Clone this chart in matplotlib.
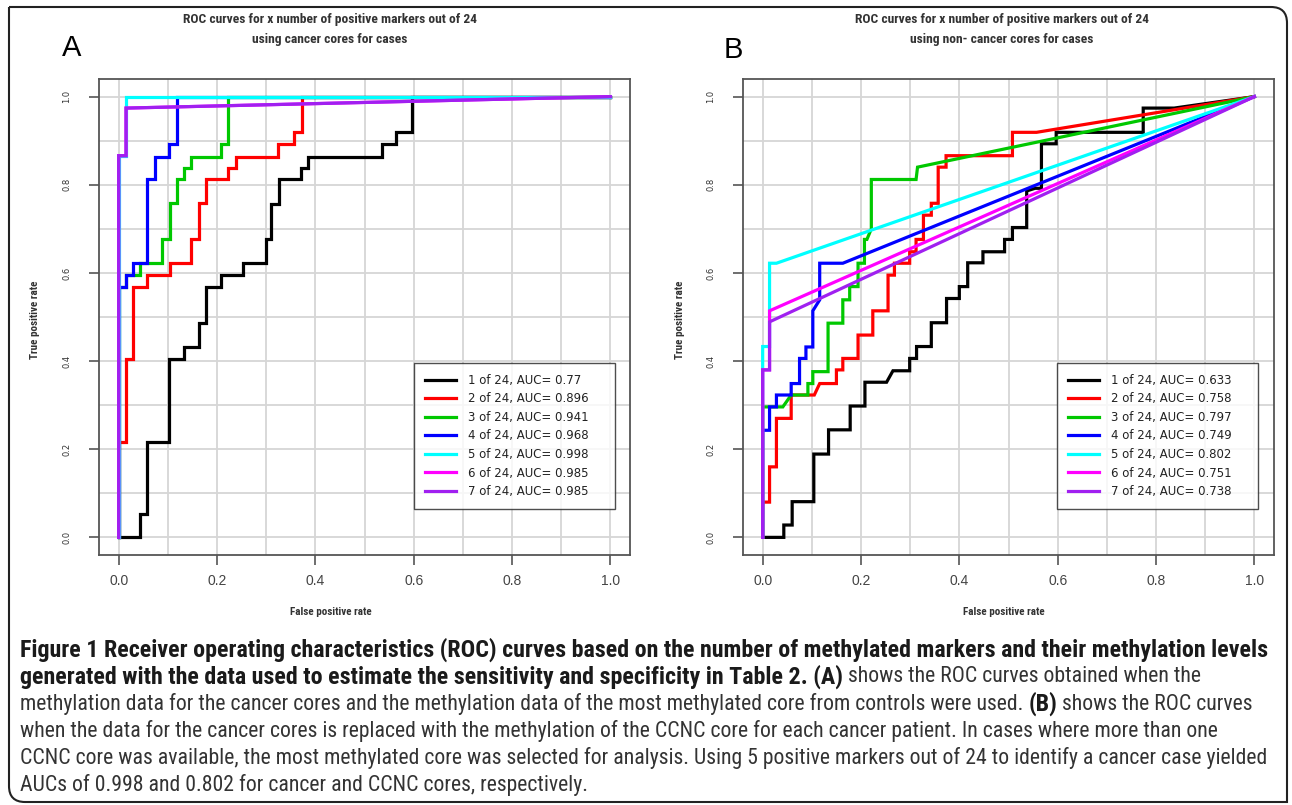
import numpy as np
import matplotlib.pyplot as plt
from matplotlib import font_manager as fm
from matplotlib.path import Path
from matplotlib.patches import PathPatch
from matplotlib.transforms import IdentityTransform

W, H = 1292, 805
ARIAL = ['Liberation Sans', 'DejaVu Sans']
_names = {f.name for f in fm.fontManager.ttflist}
NARROW = [n for n in ['Liberation Sans Narrow', 'Roboto Condensed', 'Open Sans Condensed']
          if n in _names] + ['DejaVu Sans']

colors = ['black', '#FF0000', '#00C800', '#0000FF', '#00FFFF', '#FF00FF', '#A020F0']
ticks = [0.0, 0.2, 0.4, 0.6, 0.8, 1.0]
tick_labels = ['0.0', '0.2', '0.4', '0.6', '0.8', '1.0']

# ---- panel A: cancer cores ----
a_labels = ['1 of 24, AUC= 0.77', '2 of 24, AUC= 0.896', '3 of 24, AUC= 0.941',
            '4 of 24, AUC= 0.968', '5 of 24, AUC= 0.998', '6 of 24, AUC= 0.985',
            '7 of 24, AUC= 0.985']

a1_fpr = [0, 0.044, 0.044, 0.058, 0.058, 0.103, 0.103, 0.133, 0.133, 0.163, 0.163, 0.178, 0.178,
          0.208, 0.208, 0.252, 0.252, 0.299, 0.299, 0.310, 0.310, 0.327, 0.327, 0.371, 0.371,
          0.386, 0.386, 0.536, 0.536, 0.565, 0.565, 0.597, 0.597, 1]
a1_tpr = [0, 0, 0.054, 0.054, 0.217, 0.217, 0.404, 0.404, 0.433, 0.433, 0.487, 0.487, 0.567,
          0.567, 0.595, 0.595, 0.622, 0.622, 0.676, 0.676, 0.756, 0.756, 0.812, 0.812, 0.837,
          0.837, 0.864, 0.864, 0.893, 0.893, 0.919, 0.919, 1, 1]
a2_fpr = [0, 0, 0.014, 0.014, 0.029, 0.029, 0.058, 0.058, 0.104, 0.104, 0.148, 0.148, 0.163,
          0.163, 0.178, 0.178, 0.222, 0.222, 0.238, 0.238, 0.325, 0.325, 0.357, 0.357, 0.372,
          0.372, 1]
a2_tpr = [0, 0.217, 0.217, 0.404, 0.404, 0.569, 0.569, 0.595, 0.595, 0.623, 0.623, 0.676, 0.676,
          0.758, 0.758, 0.812, 0.812, 0.837, 0.837, 0.864, 0.864, 0.893, 0.893, 0.919, 0.919,
          1, 1]
a3_fpr = [0, 0, 0.014, 0.014, 0.044, 0.044, 0.088, 0.088, 0.104, 0.104, 0.119, 0.119, 0.133,
          0.133, 0.148, 0.148, 0.208, 0.208, 0.222, 0.222, 1]
a3_tpr = [0, 0.569, 0.569, 0.595, 0.595, 0.623, 0.623, 0.676, 0.676, 0.758, 0.758, 0.812, 0.812,
          0.837, 0.837, 0.864, 0.864, 0.893, 0.893, 1, 1]
a4_fpr = [0, 0, 0.014, 0.014, 0.029, 0.029, 0.058, 0.058, 0.073, 0.073, 0.103, 0.103, 0.119,
          0.119, 1]
a4_tpr = [0, 0.569, 0.569, 0.595, 0.595, 0.623, 0.623, 0.812, 0.812, 0.864, 0.864, 0.893, 0.893,
          1, 1]
a5_fpr = [0, 0, 0.015, 0.015, 1]
a5_tpr = [0, 0.866, 0.866, 1, 1]
a6_fpr = [0, 0, 0.015, 0.015, 1]
a6_tpr = [0, 0.866, 0.866, 0.974, 1]
a7_fpr = [0, 0, 0.015, 0.015, 1]
a7_tpr = [0, 0.866, 0.866, 0.974, 1]

# ---- panel B: non-cancer cores ----
b_labels = ['1 of 24, AUC= 0.633', '2 of 24, AUC= 0.758', '3 of 24, AUC= 0.797',
            '4 of 24, AUC= 0.749', '5 of 24, AUC= 0.802', '6 of 24, AUC= 0.751',
            '7 of 24, AUC= 0.738']

b1_fpr = [0, 0.043, 0.043, 0.060, 0.060, 0.104, 0.104, 0.134, 0.134, 0.178, 0.178, 0.208, 0.208,
          0.252, 0.265, 0.299, 0.299, 0.313, 0.313, 0.343, 0.343, 0.374, 0.374, 0.400, 0.400,
          0.417, 0.417, 0.448, 0.448, 0.492, 0.492, 0.508, 0.508, 0.537, 0.537, 0.554, 0.567,
          0.567, 0.597, 0.597, 0.774, 0.774, 0.837, 1]
b1_tpr = [0, 0, 0.028, 0.028, 0.081, 0.081, 0.189, 0.189, 0.244, 0.244, 0.298, 0.298, 0.352,
          0.352, 0.378, 0.378, 0.406, 0.406, 0.433, 0.433, 0.487, 0.487, 0.542, 0.542, 0.569,
          0.569, 0.623, 0.623, 0.648, 0.648, 0.676, 0.676, 0.703, 0.703, 0.786, 0.792, 0.792,
          0.893, 0.893, 0.919, 0.919, 0.974, 0.974, 1]
b2_fpr = [0, 0, 0.014, 0.014, 0.028, 0.028, 0.058, 0.058, 0.105, 0.116, 0.150, 0.150, 0.163,
          0.163, 0.194, 0.194, 0.224, 0.224, 0.255, 0.255, 0.268, 0.268, 0.299, 0.299, 0.312,
          0.312, 0.327, 0.327, 0.343, 0.343, 0.357, 0.357, 0.373, 0.373, 0.508, 0.508, 0.557, 1]
b2_tpr = [0, 0.080, 0.080, 0.160, 0.160, 0.270, 0.270, 0.323, 0.323, 0.349, 0.349, 0.380, 0.380,
          0.406, 0.406, 0.459, 0.459, 0.514, 0.514, 0.595, 0.595, 0.622, 0.622, 0.648, 0.648,
          0.676, 0.676, 0.731, 0.731, 0.758, 0.758, 0.840, 0.840, 0.866, 0.866, 0.919, 0.919, 1]
b3_fpr = [0, 0, 0.041, 0.058, 0.092, 0.092, 0.102, 0.102, 0.133, 0.133, 0.163, 0.163, 0.177,
          0.177, 0.194, 0.194, 0.207, 0.207, 0.212, 0.221, 0.221, 0.312, 0.315, 1]
b3_tpr = [0, 0.296, 0.296, 0.323, 0.323, 0.349, 0.349, 0.376, 0.376, 0.486, 0.486, 0.539, 0.539,
          0.569, 0.569, 0.622, 0.622, 0.676, 0.676, 0.700, 0.812, 0.812, 0.840, 1]
b4_fpr = [0, 0, 0.014, 0.014, 0.028, 0.028, 0.058, 0.058, 0.075, 0.075, 0.088, 0.088, 0.102,
          0.102, 0.116, 0.116, 0.163, 1]
b4_tpr = [0, 0.243, 0.243, 0.296, 0.296, 0.323, 0.323, 0.349, 0.349, 0.406, 0.406, 0.432, 0.432,
          0.514, 0.539, 0.622, 0.622, 1]
b5_fpr = [0, 0, 0.014, 0.014, 0.028, 1]
b5_tpr = [0, 0.433, 0.433, 0.622, 0.622, 1]
b6_fpr = [0, 0, 0.014, 0.014, 1]
b6_tpr = [0, 0.380, 0.380, 0.514, 1]
b7_fpr = [0, 0, 0.014, 0.014, 1]
b7_tpr = [0, 0.380, 0.380, 0.489, 1]

a_curves = [(a1_fpr, a1_tpr), (a2_fpr, a2_tpr), (a3_fpr, a3_tpr), (a4_fpr, a4_tpr),
            (a5_fpr, a5_tpr), (a6_fpr, a6_tpr), (a7_fpr, a7_tpr)]
b_curves = [(b1_fpr, b1_tpr), (b2_fpr, b2_tpr), (b3_fpr, b3_tpr), (b4_fpr, b4_tpr),
            (b5_fpr, b5_tpr), (b6_fpr, b6_tpr), (b7_fpr, b7_tpr)]

fig = plt.figure(figsize=(W / 100, H / 100), dpi=100, facecolor='white')


def add_px_axes(left, top, right, bottom):
    return fig.add_axes([left / W, 1 - bottom / H, (right - left) / W, (bottom - top) / H])


def draw_panel(ax, curves, labels, leg_x0):
    ax.set_xlim(-0.04, 1.04)
    ax.set_ylim(-0.04, 1.04)
    ax.set_xticks(ticks)
    ax.set_yticks(ticks)
    ax.set_xticks(np.arange(0.1, 1.0, 0.2), minor=True)
    ax.set_yticks(np.arange(0.1, 1.0, 0.2), minor=True)
    ax.grid(True, which='both', color='#d6d6d6', lw=1.3)
    ax.set_axisbelow(True)
    ax.tick_params(which='minor', length=0)
    ax.tick_params(which='major', direction='out', length=7, width=1.2, color='#555555')
    ax.tick_params(axis='x', pad=7)
    ax.tick_params(axis='y', pad=13)
    ax.set_xticklabels(tick_labels, fontsize=10, color='#444444', family=ARIAL)
    ax.set_yticklabels(tick_labels, fontsize=6, color='#333333', rotation=90, va='center')
    for s in ax.spines.values():
        s.set_color('#555555')
        s.set_linewidth(1.3)
    for (fpr, tpr), c, lab in zip(curves, colors, labels):
        ax.plot(fpr, tpr, color=c, lw=2.3, label=lab, solid_joinstyle='miter')
    leg = ax.legend(loc='lower left', bbox_to_anchor=(leg_x0, 0.096, 0.379, 0.3), mode='expand',
                    frameon=True, fancybox=False, edgecolor='#222222', fontsize=8.5,
                    handlelength=2.6, handletextpad=1.0, labelspacing=0.47, borderpad=0.95,
                    borderaxespad=0)
    leg.get_frame().set_linewidth(1.0)
    for t in leg.get_texts():
        t.set_color('#222222')


ax_a = add_px_axes(99, 79, 630, 555)
draw_panel(ax_a, a_curves, a_labels, 0.593)
ax_b = add_px_axes(743, 79, 1274, 555)
draw_panel(ax_b, b_curves, b_labels, 0.591)


def ftext(x, y, s, **kw):
    return fig.text(x / W, 1 - y / H, s, **kw)


# panel letters, titles, axis labels
ftext(72, 48, 'A', fontsize=21, family=ARIAL, ha='center', va='center')
ftext(733, 50, 'B', fontsize=21, family=ARIAL, ha='center', va='center')
title_kw = dict(fontsize=9.7, fontweight='bold', family=NARROW, fontstretch='condensed',
                color='#333333', ha='center', va='center')
ftext(330, 19, 'ROC curves for x number of positive markers out of 24', **title_kw)
ftext(330, 39, 'using cancer cores for cases', **title_kw)
ftext(1002, 19, 'ROC curves for x number of positive markers out of 24', **title_kw)
ftext(1002, 39, 'using non- cancer cores for cases', **title_kw)
lab_kw = dict(fontsize=8, fontweight='bold', family=NARROW, fontstretch='condensed',
              color='#333333', ha='center', va='center')
ftext(331, 612, 'False positive rate', **lab_kw)
ftext(1004, 612, 'False positive rate', **lab_kw)
ftext(35, 320, 'True positive rate', rotation=90, **lab_kw)
ftext(680, 320, 'True positive rate', rotation=90, **lab_kw)

# outer frame: square top-left / bottom-right, rounded top-right / bottom-left
L, R, T, B, rad = 9, 1287, H - 7, 3, 16
verts = [(L, T), (R - rad, T), (R, T), (R, T - rad), (R, B), (L + rad, B), (L, B), (L, B + rad),
         (L, T)]
codes = [Path.MOVETO, Path.LINETO, Path.CURVE3, Path.CURVE3, Path.LINETO, Path.LINETO,
         Path.CURVE3, Path.CURVE3, Path.LINETO]
fig.add_artist(PathPatch(Path(verts, codes), transform=IdentityTransform(), fill=False,
                         lw=1.5, edgecolor='#222222'))

# caption
cap_lines = [
    [('Figure 1 Receiver operating characteristics (ROC) curves based on the number of '
      'methylated markers and their methylation levels', 'bold')],
    [('generated with the data used to estimate the sensitivity and specificity in Table 2. (A)',
      'bold'), ('shows the ROC curves obtained when the', 'normal')],
    [('methylation data for the cancer cores and the methylation data of the most methylated '
      'core from controls were used.', 'normal'), ('(B)', 'bold'),
     ('shows the ROC curves', 'normal')],
    [('when the data for the cancer cores is replaced with the methylation of the CCNC core for '
      'each cancer patient. In cases where more than one', 'normal')],
    [('CCNC core was available, the most methylated core was selected for analysis. Using 5 '
      'positive markers out of 24 to identify a cancer case yielded', 'normal')],
    [('AUCs of 0.998 and 0.802 for cancer and CCNC cores, respectively.', 'normal')],
]
cap_kw = dict(family=NARROW, fontstretch='condensed')
rend = fig.canvas.get_renderer()


def fit_size(text, weight, target):
    probe = ftext(0, 0, text, fontsize=14, fontweight=weight, **cap_kw)
    w = probe.get_window_extent(rend).width
    probe.remove()
    return 14 * target / w


size_by_weight = {'bold': fit_size(cap_lines[0][0][0], 'bold', 1257),
                  'normal': fit_size(cap_lines[4][0][0], 'normal', 1255)}
p1 = ftext(0, 0, 'a a', fontsize=size_by_weight['normal'], **cap_kw)
p2 = ftext(0, 0, 'aa', fontsize=size_by_weight['normal'], **cap_kw)
space_w = p1.get_window_extent(rend).width - p2.get_window_extent(rend).width
p1.remove()
p2.remove()

for i, line in enumerate(cap_lines):
    x = 20
    y = 650 + 27 * i
    for seg, weight in line:
        t = ftext(x, y, seg, fontsize=size_by_weight[weight], fontweight=weight,
                  color='#1a1a1a' if weight == 'bold' else '#333333',
                  ha='left', va='center', **cap_kw)
        x += t.get_window_extent(rend).width + space_w

fig.savefig('out.png', dpi=100, facecolor='white')
